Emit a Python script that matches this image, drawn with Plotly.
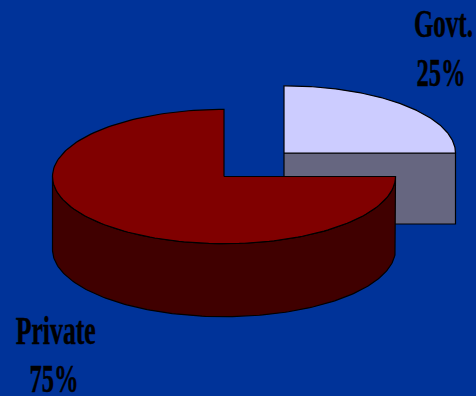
import numpy as np
import plotly.graph_objects as go

# Ownership split shown on the disc
categories = ["Govt.", "Private"]
shares = [25, 75]
percent_labels = ["25%", "75%"]

WIDTH, HEIGHT = 476, 396
BACKGROUND = "#003399"
TOP_COLOURS = {"Govt.": "#ccccff", "Private": "#800000"}
WALL_COLOURS = {"Govt.": "#666680", "Private": "#400000"}

# Disc geometry in pixel-sized axis units (y grows downward)
RX, RY = 171.5, 67.2
CENTRES = {"Govt.": (284.0, 153.0), "Private": (224.0, 176.5)}
DEPTHS = {"Govt.": 71.0, "Private": 73.0}


def arc(cx, cy, start_deg, sweep_deg, n=160):
    theta = np.radians(np.linspace(start_deg, start_deg + sweep_deg, n))
    return cx + RX * np.cos(theta), cy - RY * np.sin(theta)


def polygon(fig, x, y, colour, name):
    fig.add_trace(go.Scatter(
        x=list(x), y=list(y), mode="lines", fill="toself", fillcolor=colour,
        line=dict(color="#000000", width=1.2), name=name, hoverinfo="name",
    ))


fig = go.Figure()

# Slices run from twelve o'clock: Govt. clockwise, Private anticlockwise
sweeps = {c: s / sum(shares) * 360 for c, s in zip(categories, shares)}

# Govt.: the radial cut face sits under the top surface, then the top itself
cx, cy = CENTRES["Govt."]
depth = DEPTHS["Govt."]
end_x = cx + RX * np.cos(np.radians(90 - sweeps["Govt."]))
polygon(fig, [cx, end_x, end_x, cx, cx],
        [cy, cy, cy + depth, cy + depth, cy], WALL_COLOURS["Govt."], "Govt.")
ax, ay = arc(cx, cy, 90, -sweeps["Govt."])
polygon(fig, np.r_[cx, ax, cx], np.r_[cy, ay, cy], TOP_COLOURS["Govt."], "Govt.")

# Private: the visible outer wall spans the lower half of the ellipse
cx, cy = CENTRES["Private"]
depth = DEPTHS["Private"]
wx, wy = arc(cx, cy, 180, 90 + sweeps["Private"] - 180)
polygon(fig, np.r_[wx, wx[::-1], wx[0]], np.r_[wy, wy[::-1] + depth, wy[0]],
        WALL_COLOURS["Private"], "Private")
ax, ay = arc(cx, cy, 90, sweeps["Private"])
polygon(fig, np.r_[cx, ax, cx], np.r_[cy, ay, cy], TOP_COLOURS["Private"], "Private")

# Label blocks: (text, x, y, width the line is condensed to)
labels = [
    (categories[0], 443, 23, 59),
    (percent_labels[0], 441, 72, 49),
    (categories[1], 55.5, 330, 80),
    (percent_labels[1], 54, 378, 49),
]
for text, x, y, w in labels:
    fig.add_annotation(
        x=x, y=y, text=f"<b>{text}</b>", showarrow=False,
        xanchor="center", yanchor="middle", xref="x", yref="y",
        font=dict(family="Liberation Serif", size=41, color="#000000"),
    )

fig.update_layout(
    width=WIDTH, height=HEIGHT, autosize=False,
    margin=dict(l=0, r=0, t=0, b=0),
    paper_bgcolor=BACKGROUND, plot_bgcolor=BACKGROUND,
    showlegend=False,
    xaxis=dict(range=[0, WIDTH], visible=False, fixedrange=True),
    yaxis=dict(range=[HEIGHT, 0], visible=False, fixedrange=True),
)

# The face is a tall condensed serif: squeeze each label line about its centre
fit = "; ".join(
    f"fit({i}, {w})" for i, (_, _, _, w) in enumerate(labels)
)
post_script = (
    "var gd = document.getElementsByClassName('plotly-graph-div')[0];"
    "var nodes = gd.querySelectorAll('.annotation-text');"
    "function fit(i, w) {"
    "  var n = nodes[i];"
    "  var mid = parseFloat(n.getAttribute('x')) || 0;"
    "  var sx = w / n.getComputedTextLength();"
    "  n.setAttribute('transform',"
    "    'translate(' + mid + ' 0) scale(' + sx + ' 1) translate(' + (-mid) + ' 0)');"
    "  n.setAttribute('stroke', '#000000');"
    "  n.setAttribute('stroke-width', '0.5');"
    "}"
    + fit + ";"
)

fig.write_html("out.html", config={"displayModeBar": False}, post_script=post_script)
